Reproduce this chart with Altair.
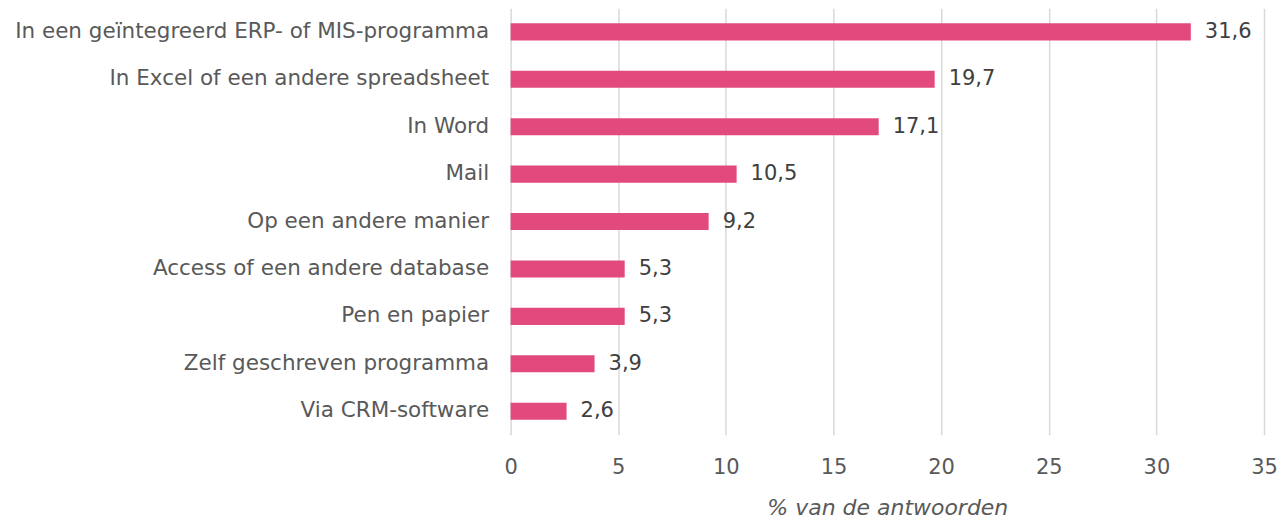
import altair as alt
import pandas as pd

categories = [
    "In een geïntegreerd ERP- of MIS-programma",
    "In Excel of een andere spreadsheet",
    "In Word",
    "Mail",
    "Op een andere manier",
    "Access of een andere database",
    "Pen en papier",
    "Zelf geschreven programma",
    "Via CRM-software",
]
values = [31.6, 19.7, 17.1, 10.5, 9.2, 5.3, 5.3, 3.9, 2.6]
x_ticks = [0, 5, 10, 15, 20, 25, 30, 35]

df = pd.DataFrame({
    "cat": categories,
    "val": values,
    "lab": [f"{v:.1f}".replace(".", ",") for v in values],
})

FONT = "DejaVu Sans"

base = alt.Chart(df).encode(
    y=alt.Y("cat:N", sort=categories, title=None,
            scale=alt.Scale(paddingInner=0.64, paddingOuter=0.32),
            axis=alt.Axis(labelFont=FONT, labelFontSize=21.5, labelColor="#595959",
                          ticks=False, domain=False, labelPadding=22, labelLimit=600)),
    x=alt.X("val:Q", title="% van de antwoorden",
            scale=alt.Scale(domain=[0, 35], nice=False),
            axis=alt.Axis(values=x_ticks, labelFont=FONT, labelFontSize=21, labelColor="#595959",
                          ticks=False, domain=False, labelPadding=22, labelFlush=False,
                          grid=True, gridColor="#d9d9d9", gridWidth=1.5,
                          titleFont=FONT, titleFontSize=22, titleFontStyle="italic",
                          titleFontWeight="normal", titleColor="#595959", titlePadding=20)),
)

bars = base.mark_bar(color="#E24A7E")
text = base.mark_text(align="left", baseline="middle", dx=14, font=FONT, fontSize=21,
                      color="#404040").encode(text="lab:N")

chart = (bars + text).properties(
    width=754, height=427,
    padding={"left": 503, "top": 0, "right": 13, "bottom": 85},
    autosize=alt.AutoSizeParams(type="none"),
).configure_view(stroke=None)

chart.save("out.html", embed_options={"renderer": "svg", "actions": False})
